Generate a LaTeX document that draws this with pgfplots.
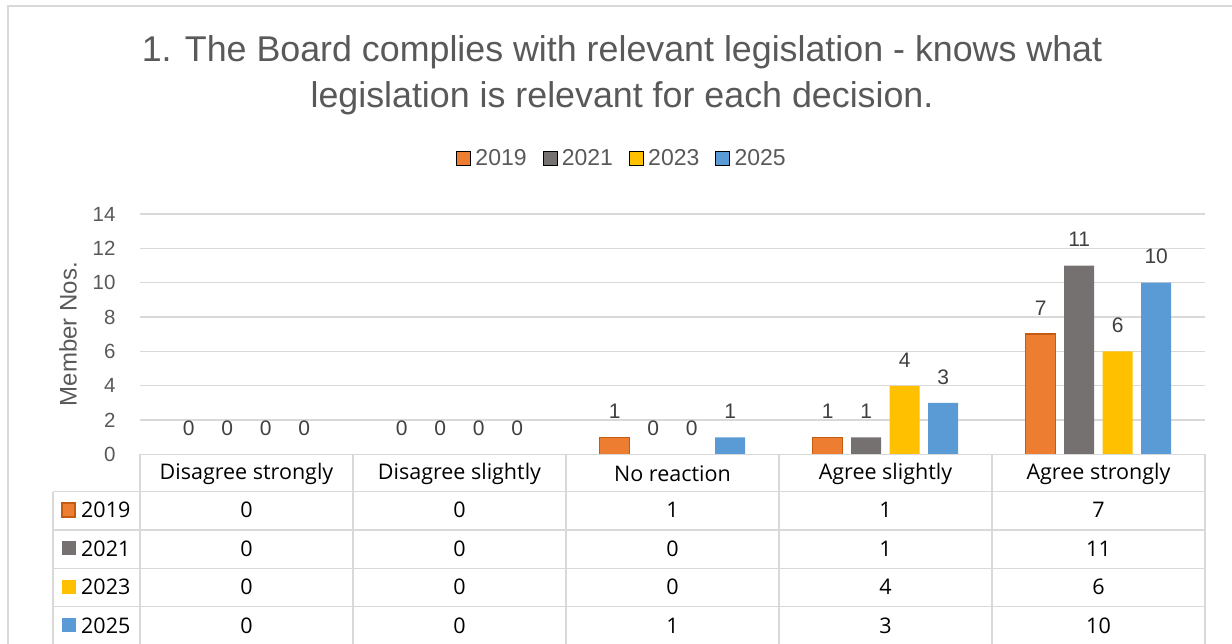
\documentclass[border=0pt]{standalone}
\usepackage{pgfplots}
\pgfplotsset{compat=1.18}
\usepackage{fontspec}
\setmainfont{Liberation Sans}
\newfontfamily\tabfont{Open Sans}
\definecolor{c19}{HTML}{ED7D31}
\definecolor{c19b}{HTML}{C55A11}
\definecolor{c21}{HTML}{767171}
\definecolor{c23}{HTML}{FFC000}
\definecolor{c25}{HTML}{5B9BD5}
\definecolor{txt}{HTML}{595959}
\definecolor{lbl}{HTML}{404040}
\definecolor{gridc}{HTML}{D9D9D9}
\pgfplotstableread{
x y19 y21 y23 y25
0 0 0 0 0
1 0 0 0 0
2 1 0 0 1
3 1 1 4 3
4 7 11 6 10
}\datatab
\begin{document}
\begin{tikzpicture}[x=1pt,y=1pt]
\useasboundingbox (0,0) rectangle (1232,644);
\draw[gridc, line width=2pt] (8,0) -- (8,638) -- (1240,638);
\node[txt, anchor=base, font=\fontsize{35.8}{40}\selectfont] at (622,582.3) {1. The Board complies with relevant legislation - knows what};
\node[txt, anchor=base, font=\fontsize{35.8}{40}\selectfont] at (622,536.7) {legislation is relevant for each decision.};
\begin{axis}[
  at={(140pt,189.5pt)}, anchor=south west,
  scale only axis, width=1065pt, height=240.5pt,
  xmin=-0.5, xmax=4.5, ymin=0, ymax=14,
  ytick={0,2,...,14}, xtick=\empty,
  ymajorgrids, grid style={gridc, line width=1.3pt},
  axis line style={draw=none}, major tick length=0pt,
  yticklabel style={txt, font=\fontsize{20.5}{24}\selectfont, xshift=-21pt},
  /pgf/number format/assume math mode=true,
  ylabel={Member Nos.},
  ylabel style={txt, font=\fontsize{24}{28}\selectfont, at={(axis description cs:-0.0676,0.5)}, anchor=center},
  ybar, bar width=30pt,
  nodes near coords,
  nodes near coords style={lbl, font=\fontsize{21}{24}\selectfont, anchor=center, yshift=26pt},
  legend columns=4,
  legend style={at={(axis description cs:0.4526,1.2328)}, anchor=center, draw=none, fill=none,
    font=\fontsize{23}{26}\selectfont, text=txt,
    /tikz/every even column/.append style={column sep=14pt}},
  legend image code/.code={\draw[#1] (0pt,-7pt) rectangle (14pt,7pt); \path (17pt,0pt);},
]
\addplot[fill=c19, draw=none, bar shift=-57.75pt] table[x=x,y=y19]{\datatab};
\addplot[fill=c21, draw=none, bar shift=-19.25pt] table[x=x,y=y21]{\datatab};
\addplot[fill=c23, draw=none, bar shift=19.25pt] table[x=x,y=y23]{\datatab};
\addplot[fill=c25, draw=none, bar shift=57.75pt] table[x=x,y=y25]{\datatab};
\addplot[fill=none, draw=c19b, line width=1.5pt, bar shift=-57.75pt, nodes near coords={}, forget plot] coordinates {(2,1) (3,1) (4,7)};
\legend{2019,2021,2023,2025}
\end{axis}
% data table
\begin{scope}[gridc, line width=1.3pt]
\draw (140,189.5) -- (1205,189.5);
\draw (53,152.3) -- (1205,152.3);
\draw (53,114) -- (1205,114);
\draw (53,75.7) -- (1205,75.7);
\draw (53,37.3) -- (1205,37.3);
\draw (53,-2) -- (1205,-2);
\draw (53,152.3) -- (53,-2);
\foreach \xx in {140,353,566,779,992,1205} {\draw (\xx,189.5) -- (\xx,-2);}
\end{scope}
\begin{scope}[font=\tabfont\fontsize{21.5}{24}\selectfont, text=black]
\foreach \c [count=\i from 0] in {Disagree strongly,Disagree slightly,No reaction,Agree slightly,Agree strongly}
  {\node at (246.5+213*\i,170) {\c};}
\foreach \v [count=\i from 0] in {0,0,1,1,7} {\node at (246.5+213*\i,134) {\v};}
\foreach \v [count=\i from 0] in {0,0,0,1,11} {\node at (246.5+213*\i,95.5) {\v};}
\foreach \v [count=\i from 0] in {0,0,0,4,6} {\node at (246.5+213*\i,57) {\v};}
\foreach \v [count=\i from 0] in {0,0,1,3,10} {\node at (246.5+213*\i,18.5) {\v};}
\fill[c19, draw=c19b, line width=1.2pt] (62,127) rectangle (75,141);
\fill[c21] (62,88.5) rectangle (76,102.5);
\fill[c23] (62,50) rectangle (76,64);
\fill[c25] (62,11.5) rectangle (76,25.5);
\node[anchor=west, inner sep=0pt] at (81,134) {2019};
\node[anchor=west, inner sep=0pt] at (81,95.5) {2021};
\node[anchor=west, inner sep=0pt] at (81,57) {2023};
\node[anchor=west, inner sep=0pt] at (81,18.5) {2025};
\end{scope}
\end{tikzpicture}
\end{document}
